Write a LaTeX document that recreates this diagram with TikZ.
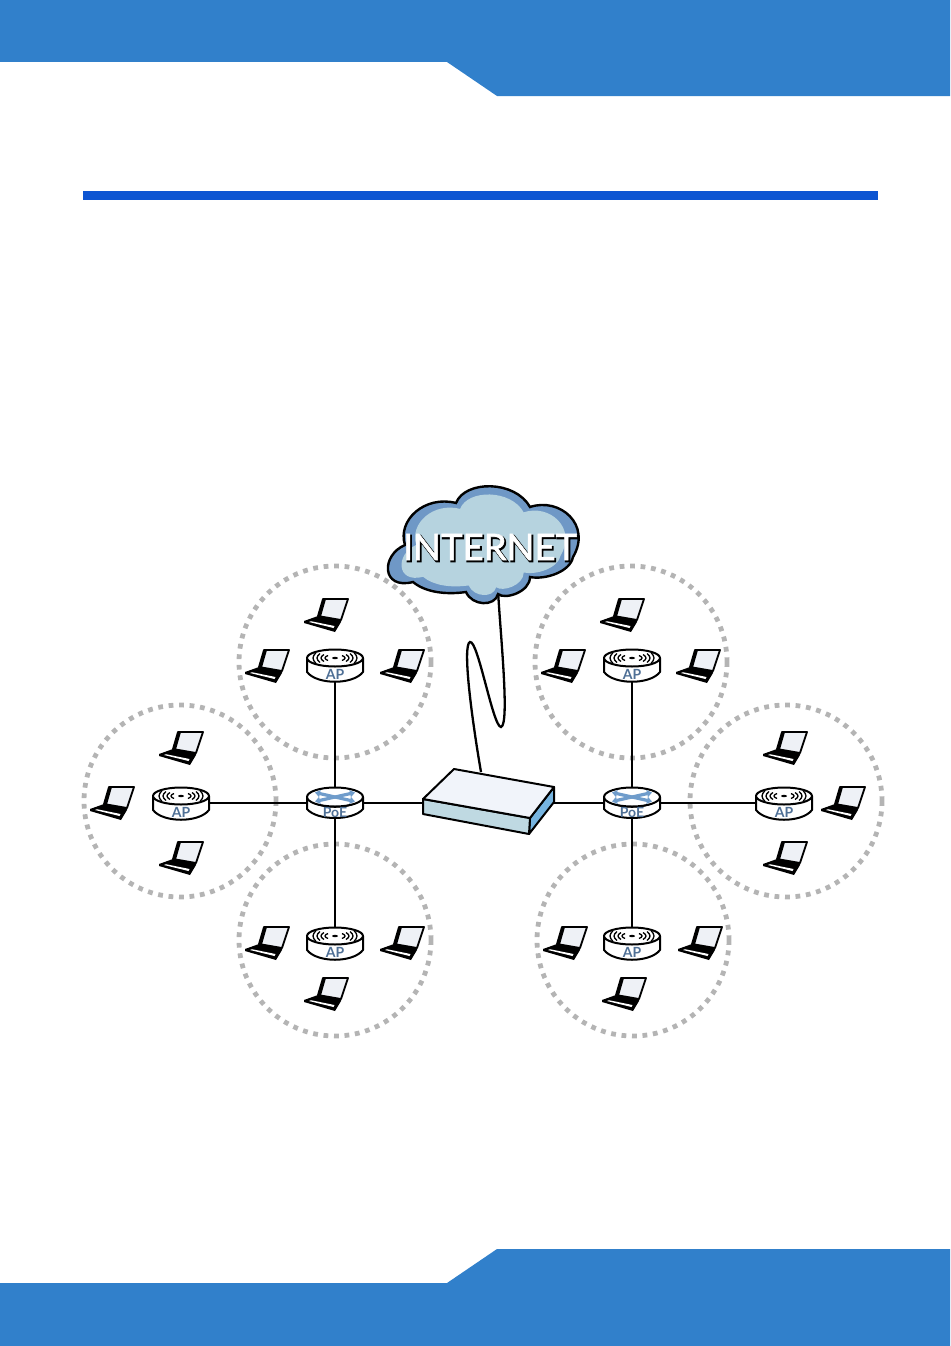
\documentclass[tikz,border=0pt]{standalone}
\usepackage{fontspec}
\setmainfont{Lato}
\newfontfamily\cloudshade[FakeBold=5]{Lato}
\newfontfamily\cloudword[FakeBold=1.6]{Lato}
\usetikzlibrary{arrows.meta}
\definecolor{bannerblue}{HTML}{3180CB}
\definecolor{ruleblue}{HTML}{0D55D2}
\definecolor{ringgray}{HTML}{B4B4B4}
\definecolor{cloudedge}{HTML}{6F98C6}
\definecolor{cloudfill}{HTML}{B6D3DF}
\definecolor{iconblue}{HTML}{6F9CCB}
\definecolor{icontext}{HTML}{4F7096}
\definecolor{boxtop}{HTML}{F1F4FA}
\definecolor{boxfront}{HTML}{BFD9E2}
\definecolor{boxside}{HTML}{76B4E0}
\definecolor{screenlight}{HTML}{EEF1F6}
\tikzset{
  ring/.style={draw=ringgray,line width=4.8pt,dash pattern=on 4.8pt off 5.7pt},
  link/.style={draw=black,line width=2.3pt},
  icon/.style={draw=black,line width=2pt,fill=white,line join=round},
  wave/.style={draw=black,line width=1.3pt},
  tag/.style={font=\bfseries\fontsize{14}{14}\selectfont,text=icontext,inner sep=0pt},
  boxface/.style={draw=black,line width=2pt,line join=round}
}
\newcommand{\cloudpath}
{ (405,545) .. controls (397,520) and (425,495) .. (456,503)
  .. controls (465,480) and (515,480) .. (530,507)
  .. controls (560,497) and (592,525) .. (573,557)
  .. controls (570,572) and (545,580) .. (530,577)
  .. controls (530,592) and (505,600) .. (498,594)
  .. controls (495,607) and (472,606) .. (466,592)
  .. controls (445,595) and (425,592) .. (413,582)
  .. controls (381,590) and (381,555) .. (405,545) -- cycle
}
\newcommand{\laptop}[2]
{ \begin{scope}[shift={(#1,#2)}]
   \fill[black] (-22,7) -- (-8,2) -- (15,6) -- (15,8) -- (9,18) -- (-22,9) -- cycle;
   \fill[white] (-17,8) -- (-15,7.2) -- (8.5,12) -- (7.5,14) -- cycle;
   \draw[black,line width=1.8pt,fill=screenlight,line join=round] (-3,-15) -- (22,-15) -- (15,6) -- (-8,2) -- cycle;
   \fill[black] (-3,-15) -- (0,-15) -- (-5,2.4) -- (-8,2) -- cycle;
  \end{scope}
}
\newcommand{\accesspoint}[2]
{ \begin{scope}[shift={(#1,#2)}]
   \draw[icon] (-28,-7) -- (-28,7) .. controls (-18,20) and (18,20) .. (28,7) -- (28,-7) -- cycle;
   \draw[icon] (0,-7) ellipse [x radius=28,y radius=8.5];
   \fill[black] (0,-7) ellipse [x radius=3,y radius=1.2];
   \foreach \w/\h in {7/2.5,11/3.5,15/4.5,19/5.5}
   {  \draw[wave] (-\w,-7-\h) .. controls (-\w-4,-8) and (-\w-4,-6) .. (-\w,-7+\h);
      \draw[wave] (\w,-7-\h) .. controls (\w+4,-8) and (\w+4,-6) .. (\w,-7+\h);
   }
   \node[tag] (aptag#1) at (0,9) {AP};
  \end{scope}
}
\newcommand{\poeswitch}[2]
{ \begin{scope}[shift={(#1,#2)}]
   \draw[icon] (-28,-6) -- (-28,6) .. controls (-18,18) and (18,18) .. (28,6) -- (28,-6) -- cycle;
   \draw[icon] (0,-6) ellipse [x radius=28,y radius=9.5];
   \draw[line width=.8pt] (-27,-3.5) .. controls (-16,7) and (16,7) .. (27,-3.5);
   \draw[iconblue,line width=3.2pt,{Triangle[length=5pt,width=7pt]}-{Triangle[length=5pt,width=7pt]}] (-20,-1.5) -- (20,-10.5);
   \draw[iconblue,line width=3.2pt,{Triangle[length=5pt,width=7pt]}-{Triangle[length=5pt,width=7pt]}] (-20,-10.5) -- (20,-1.5);
   \node[tag] (poetag#1) at (0,9.5) {PoE};
  \end{scope}
}

\begin{document}
\begin{tikzpicture}[x=1pt,y=-1pt]
 \useasboundingbox (0,0) rectangle (950,1346);

 \fill[bannerblue] (0,0) -- (950,0) -- (950,96) -- (497,96) -- (447,62) -- (0,62) -- cycle;
 \fill[bannerblue] (0,1283) -- (447,1283) -- (497,1249) -- (950,1249) -- (950,1346) -- (0,1346) -- cycle;
 \fill[ruleblue] (83,191) rectangle (878,200);

 \draw[ring] (335,662) circle (96);
 \draw[ring] (631,662) circle (96);
 \draw[ring] (180,801) circle (96);
 \draw[ring] (786,801) circle (96);
 \draw[ring] (335,940) circle (96);
 \draw[ring] (633,940) circle (96);

 \coordinate (poeL) at (335,803);
 \coordinate (poeR) at (632,803);
 \coordinate (apNW) at (335,665);
 \coordinate (apW) at (181,803);
 \coordinate (apSW) at (335,943);
 \coordinate (apNE) at (632,665);
 \coordinate (apE) at (784,803);
 \coordinate (apSE) at (632,943);
 \coordinate (routerW) at (430,803);
 \coordinate (routerE) at (545,803);
 \coordinate (routerTop) at (481,772);
 \coordinate (cloudTail) at (498,590);

 \foreach \a/\b in {poeL/apNW,poeL/apW,poeL/apSW,poeL/routerW,poeR/apNE,poeR/apE,poeR/apSE,poeR/routerE}
   \draw[link] (\a) -- (\b);
 \draw[link] (cloudTail) .. controls (500,630) and (510,725) .. (501,727)
   .. controls (493,727) and (478,640) .. (470,642)
   .. controls (462,645) and (472,720) .. (routerTop);

 \fill[boxside,boxface] (554,787) -- (554,802) -- (529,834) -- (530,818) -- cycle;
 \fill[boxfront,boxface] (423,799) -- (530,818) -- (529,834) -- (423,814) -- cycle;
 \fill[boxtop,boxface] (423,799) -- (454,769) -- (554,787) -- (530,818) -- cycle;

 \fill[cloudedge,draw=black,line width=2.4pt] \cloudpath;
 \begin{scope}[shift={(485,545)},scale=.86,shift={(-485,-545)}]
   \fill[cloudfill] \cloudpath;
 \end{scope}
 \node[text=black,inner sep=0pt,font=\cloudshade\fontsize{36.5}{36.5}\selectfont] (internetshade) at (491.2,548.5) {INTERNET};
 \node[text=white,inner sep=0pt,font=\cloudword\fontsize{36.5}{36.5}\selectfont] (internet) at (490,547) {INTERNET};

 \foreach \x/\y in {335/665,632/665,181/803,784/803,335/943,632/943}
 {  \accesspoint{\x}{\y}
 }
 \poeswitch{335}{803}
 \poeswitch{632}{803}
 \foreach \x/\y in {326/614,267/665,402/665,622/614,563/665,698/665,181/747,112/802,181/857,785/747,843/802,785/857,267/942,402/942,326/993,565/942,700/942,624/993}
 {  \laptop{\x}{\y}
 }
\end{tikzpicture}
\end{document}
